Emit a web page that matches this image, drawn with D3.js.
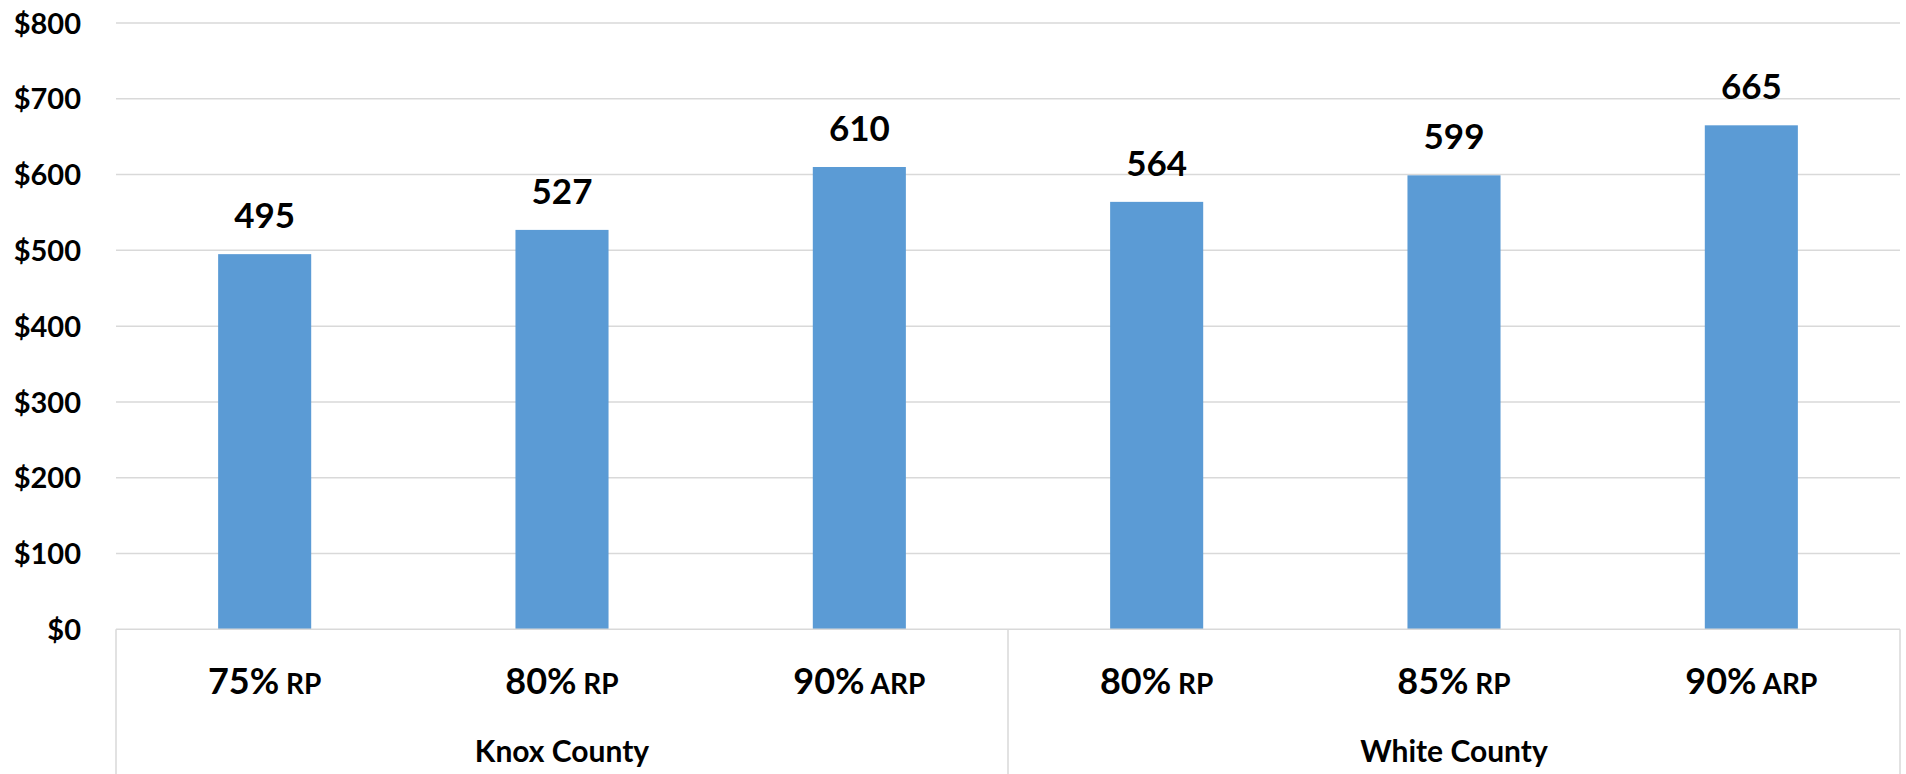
<!DOCTYPE html>
<html>
<head>
<meta charset="utf-8">
<script src="https://cdn.jsdelivr.net/npm/d3@7"></script>
<style>
  html, body { margin: 0; padding: 0; background: #fff; }
  svg { display: block; }
  text { font-family: Lato, "Open Sans", "Liberation Sans", sans-serif; font-weight: 700; fill: #000; }
</style>
</head>
<body>
<svg id="chart" width="1906" height="774"></svg>
<script>
// ---- Data ----
const categoryPct = ["75%", "80%", "90%", "80%", "85%", "90%"];
const categorySuffix = ["RP", "RP", "ARP", "RP", "RP", "ARP"];
const groups = ["Knox County", "White County"];
const groupOf = [0, 0, 0, 1, 1, 1];
const values = [495, 527, 610, 564, 599, 665];
const yTicks = [0, 100, 200, 300, 400, 500, 600, 700, 800];

// ---- Layout ----
const W = 1906, H = 774;
const plotLeft = 116, plotRight = 1900, plotTop = 23, plotBottom = 629.3;
const svg = d3.select("#chart");

const x = d3.scaleBand().domain(d3.range(values.length)).range([plotLeft, plotRight]).padding(0);
const y = d3.scaleLinear().domain([0, 800]).range([plotBottom, plotTop]);
const barW = x.bandwidth() * 0.313;

// gridlines
svg.append("g").selectAll("line").data(yTicks.filter(d => d > 0)).join("line")
  .attr("x1", plotLeft).attr("x2", plotRight)
  .attr("y1", d => y(d)).attr("y2", d => y(d))
  .attr("stroke", "#d9d9d9").attr("stroke-width", 1.5);

// y axis labels
const yAxis = d3.axisLeft(y).tickValues(yTicks).tickFormat(d => "$" + d).tickSize(0).tickPadding(0);
const ya = svg.append("g").attr("transform", "translate(81,0)").call(yAxis);
ya.select(".domain").remove();
ya.selectAll("text").attr("font-size", 29).attr("font-family", "Lato, 'Open Sans', sans-serif")
  .attr("font-weight", 700).attr("fill", "#000").attr("dy", "0.35em");

// bars
svg.append("g").selectAll("rect").data(values).join("rect")
  .attr("x", (d, i) => x(i) + (x.bandwidth() - barW) / 2)
  .attr("width", barW)
  .attr("y", d => y(d))
  .attr("height", d => y(0) - y(d))
  .attr("fill", "#5b9bd5");

// value labels
svg.append("g").selectAll("text").data(values).join("text")
  .attr("x", (d, i) => x(i) + x.bandwidth() / 2)
  .attr("y", d => y(d) - 26)
  .attr("text-anchor", "middle")
  .attr("font-size", 35)
  .text(d => d);

// x axis line and multi-level separators
svg.append("line").attr("x1", plotLeft).attr("x2", plotRight).attr("y1", plotBottom).attr("y2", plotBottom)
  .attr("stroke", "#d9d9d9").attr("stroke-width", 1.5);
const seps = [0, 3, 6].map(i => i < values.length ? x(i) : plotRight);
svg.append("g").selectAll("line").data(seps).join("line")
  .attr("x1", d => d).attr("x2", d => d)
  .attr("y1", plotBottom).attr("y2", H)
  .attr("stroke", "#d9d9d9").attr("stroke-width", 1.5);

// category labels
const cl = svg.append("g").selectAll("text").data(categoryPct).join("text")
  .attr("x", (d, i) => x(i) + x.bandwidth() / 2)
  .attr("y", 694)
  .attr("text-anchor", "middle");
cl.append("tspan").attr("font-size", 36).text(d => d);
cl.append("tspan").attr("font-size", 28).text((d, i) => " " + categorySuffix[i]);

// group labels
svg.append("g").selectAll("text").data(groups).join("text")
  .attr("x", (d, gi) => {
    const idx = d3.range(values.length).filter(i => groupOf[i] === gi);
    return (x(idx[0]) + x(idx[idx.length - 1]) + x.bandwidth()) / 2;
  })
  .attr("y", 762)
  .attr("text-anchor", "middle")
  .attr("font-size", 30)
  .text(d => d);
</script>
</body>
</html>
